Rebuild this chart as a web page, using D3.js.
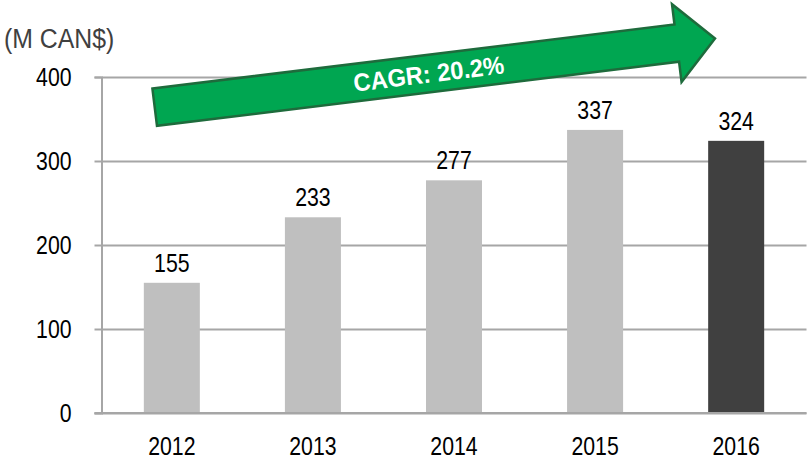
<!DOCTYPE html>
<html>
<head>
<meta charset="utf-8">
<script src="https://cdn.jsdelivr.net/npm/d3@7"></script>
<style>
  body { margin: 0; background: #fff; }
  svg { display: block; font-family: "Liberation Sans", Arial, sans-serif; }
</style>
</head>
<body>
<svg id="chart" width="808" height="461"></svg>
<script>
const years = ["2012", "2013", "2014", "2015", "2016"];
const revenue = [155, 233, 277, 337, 324];
const yTicks = [0, 100, 200, 300, 400];
const unitLabel = "(M CAN$)";
const cagrLabel = "CAGR: 20.2%";

const svg = d3.select("#chart");

const plotLeft = 101.5, plotRight = 806.5, plotTop = 77, plotBottom = 413;

// no narrow font installed, so squeeze text horizontally
const condense = (sel, k) => sel
  .attr("transform", `scale(${k},1)`)
  .attr("x", function () { return (+this.getAttribute("x") || 0) / k; });

const x = d3.scaleBand().domain(years).range([plotLeft, plotRight])
  .paddingInner(0.603).paddingOuter(0.3);
const y = d3.scaleLinear().domain([0, 400]).range([plotBottom, plotTop]);

// gridlines + tick labels
const yAxis = svg.append("g")
  .attr("transform", `translate(${plotLeft},0)`)
  .call(d3.axisLeft(y).tickValues(yTicks).tickSize(7).tickPadding(23).tickFormat(d3.format("d")));
yAxis.select(".domain").attr("stroke", "#a6a6a6").attr("stroke-width", 2);
yAxis.selectAll(".tick line").attr("stroke", "#a6a6a6").attr("stroke-width", 2);
yAxis.selectAll(".tick text").attr("fill", "#000").style("font-size", "25px").call(condense, 0.85);
yAxis.selectAll(".tick").append("line")
  .attr("x1", 0).attr("x2", plotRight - plotLeft)
  .attr("stroke", "#a6a6a6").attr("stroke-width", 2);

// bars
svg.append("g").selectAll("rect")
  .data(years)
  .enter()
  .append("rect")
  .attr("x", d => x(d))
  .attr("width", x.bandwidth())
  .attr("y", (d, i) => y(revenue[i]))
  .attr("height", (d, i) => y(0) - y(revenue[i]))
  .attr("fill", (d, i) => i === years.length - 1 ? "#404040" : "#bfbfbf");

// redraw baseline over bars
svg.append("line")
  .attr("x1", plotLeft - 7).attr("x2", plotRight)
  .attr("y1", y(0)).attr("y2", y(0))
  .attr("stroke", "#a6a6a6").attr("stroke-width", 2);

// value labels
svg.append("g").selectAll("text")
  .data(years)
  .enter()
  .append("text")
  .attr("x", d => x(d) + x.bandwidth() / 2)
  .attr("y", (d, i) => y(revenue[i]) - 11)
  .attr("text-anchor", "middle")
  .style("font-size", "26px")
  .attr("fill", "#000")
  .text((d, i) => revenue[i])
  .call(condense, 0.82);

// year labels
const xAxis = svg.append("g")
  .attr("transform", `translate(0,${plotBottom})`)
  .call(d3.axisBottom(x).tickSize(0).tickPadding(24));
xAxis.select(".domain").remove();
xAxis.selectAll(".tick text").attr("fill", "#000").style("font-size", "25px").call(condense, 0.85);

// unit label
svg.append("text")
  .attr("x", 4).attr("y", 48)
  .style("font-size", "27px")
  .attr("fill", "#404040")
  .text(unitLabel)
  .call(condense, 0.92);

// CAGR arrow
const arrow = svg.append("g")
  .attr("transform", "translate(154.7,107.2) rotate(-7)");
const arrowPts = [[0, -18.75], [526, -18.75], [526, -39.2], [564.5, 0], [526, 39.2], [526, 18.75], [0, 18.75]];
arrow.append("path")
  .attr("d", d3.line()(arrowPts) + "Z")
  .attr("fill", "#00a651")
  .attr("stroke", "#1e6b3c")
  .attr("stroke-width", 2.5)
  .attr("stroke-linejoin", "miter");
arrow.append("text")
  .attr("x", 276).attr("y", 0)
  .attr("dy", "0.36em")
  .attr("text-anchor", "middle")
  .style("font-size", "25px")
  .style("font-weight", "bold")
  .attr("fill", "#fff")
  .text(cagrLabel)
  .call(condense, 0.95);
</script>
</body>
</html>
